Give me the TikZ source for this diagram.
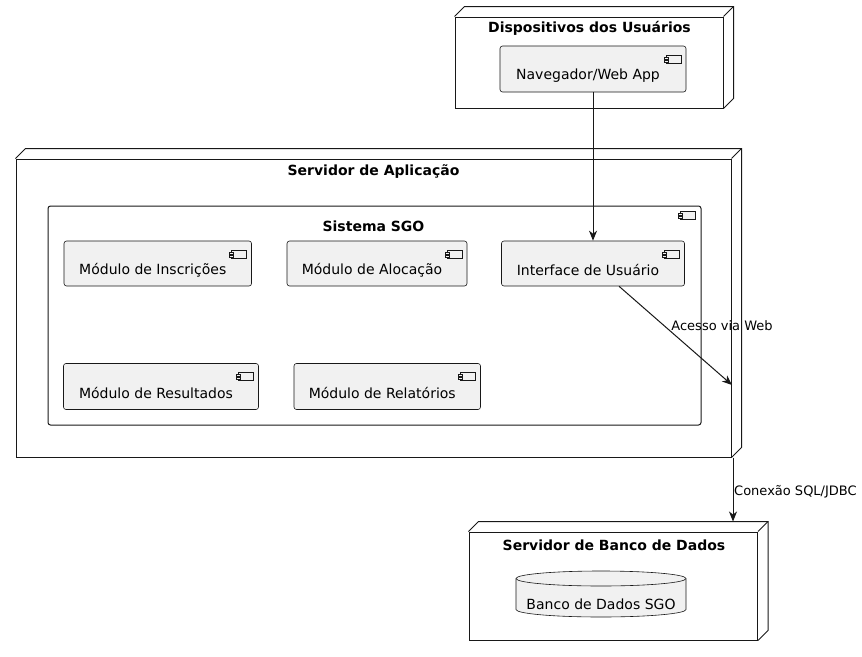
\documentclass[tikz,border=0pt]{standalone}
\usepackage{fontspec}
\setmainfont{DejaVu Sans}
\usetikzlibrary{arrows.meta,calc}
\definecolor{compfill}{HTML}{F1F1F1}
\definecolor{ink}{HTML}{181818}
\begin{document}
\begin{tikzpicture}[x=1pt,y=-1pt,
  deploy/.style={draw=ink, line width=1pt, fill=white, inner sep=0pt},
  extrude/.style={draw=ink, line width=1pt},
  ctext/.style={font=\fontsize{14}{16}\selectfont, text=black, yshift=-6.5pt, xshift=-5pt},
  title/.style={font=\fontsize{14}{16}\selectfont\bfseries, inner sep=0pt},
  elabel/.style={font=\fontsize{13}{15}\selectfont, inner sep=0pt},
  compicon/.style n args={2}{path picture={
    \draw[ink, line width=0.5pt, fill=compfill, sharp corners]
      ($(path picture bounding box.north east)+(-#1,#2)$) rectangle ++(-15,8);
    \draw[ink, line width=0.5pt, fill=compfill, sharp corners]
      ($(path picture bounding box.north east)+(-#1-17,#2+2)$) rectangle ++(4,2);
    \draw[ink, line width=0.5pt, fill=compfill, sharp corners]
      ($(path picture bounding box.north east)+(-#1-17,#2+5)$) rectangle ++(4,2);
  }},
  comp/.style={draw=ink, line width=0.6pt, fill=compfill, rounded corners=2.5pt,
    inner sep=0pt, compicon={5}{9}},
  container/.style={draw=ink, line width=1pt, fill=white, rounded corners=2.5pt,
    inner sep=0pt, compicon={6}{5}},
  conn/.style={draw=ink, line width=1pt, -{Stealth[length=10pt,width=8pt,inset=3pt]}}
]
\useasboundingbox (0,0) rectangle (862,656);

% deployment nodes (front faces)
\node[deploy, minimum width=268, minimum height=91] (dev) at (589,62.5) {};
\node[deploy, minimum width=715, minimum height=298] (srv) at (373.5,308) {};
\node[deploy, minimum width=288.5, minimum height=108] (dbs) at (613.25,586) {};

% 3D extrusion
\foreach \n in {dev,srv,dbs}{
  \draw[extrude] (\n.north west) -- ++(10,-10) -- ($(\n.north east)+(10,-10)$)
     -- ($(\n.south east)+(10,-10)$) -- (\n.south east);
  \draw[extrude] (\n.north east) -- ++(10,-10);
}

% titles
\node[title] (devt) at (589.5,28) {Dispositivos dos Usuários};
\node[title] (srvt) at (373.5,172) {Servidor de Aplicação};
\node[title] (dbst) at (614,545) {Servidor de Banco de Dados};

% Sistema SGO container
\node[container, minimum width=653, minimum height=219] (sgo) at (374.5,315.5) {};
\node[title] (sgot) at (373.5,226) {Sistema SGO};

% components
\node[comp, minimum width=186, minimum height=46,
  label={[ctext]center:Navegador/Web App}] (nav) at (593,69) {};
\node[comp, minimum width=187.5, minimum height=45,
  label={[ctext]center:Módulo de Inscrições}] (insc) at (157.75,263.5) {};
\node[comp, minimum width=180, minimum height=45,
  label={[ctext]center:Módulo de Alocação}] (aloc) at (377,263.5) {};
\node[comp, minimum width=183, minimum height=45,
  label={[ctext]center:Interface de Usuário}] (iface) at (593,263.5) {};
\node[comp, minimum width=195, minimum height=46,
  label={[ctext]center:Módulo de Resultados}] (resu) at (161,386.5) {};
\node[comp, minimum width=186.5, minimum height=46,
  label={[ctext]center:Módulo de Relatórios}] (rela) at (387.25,386.5) {};

% database cylinder
\filldraw[draw=ink, line width=0.6pt, fill=compfill]
  (516,578.5) -- (516,609.5)
  arc[start angle=180, end angle=360, x radius=85pt, y radius=7.5pt]
  -- (686,578.5)
  arc[start angle=0, end angle=180, x radius=85pt, y radius=7.5pt] -- cycle;
\draw[ink, line width=0.6pt] (516,578.5)
  arc[start angle=180, end angle=360, x radius=85pt, y radius=7.5pt];
\node[font=\fontsize{14}{16}\selectfont, inner sep=0pt] (dbcyl) at (601,604) {Banco de Dados SGO};

% connectors
\coordinate (webend) at (732,385);
\draw[conn] (nav) -- (iface);
\draw[conn] (iface) -- (webend);
\node[elabel] (weblbl) at (722,326) {Acesso via Web};

\draw[conn] ([xshift=1.5pt]srv.south east) -- ($(dbs.north west -| srv.south east)+(1.5,-10)$);
\node[elabel, anchor=west] (sqllbl) at (734,492) {Conexão SQL/JDBC};
\end{tikzpicture}
\end{document}
